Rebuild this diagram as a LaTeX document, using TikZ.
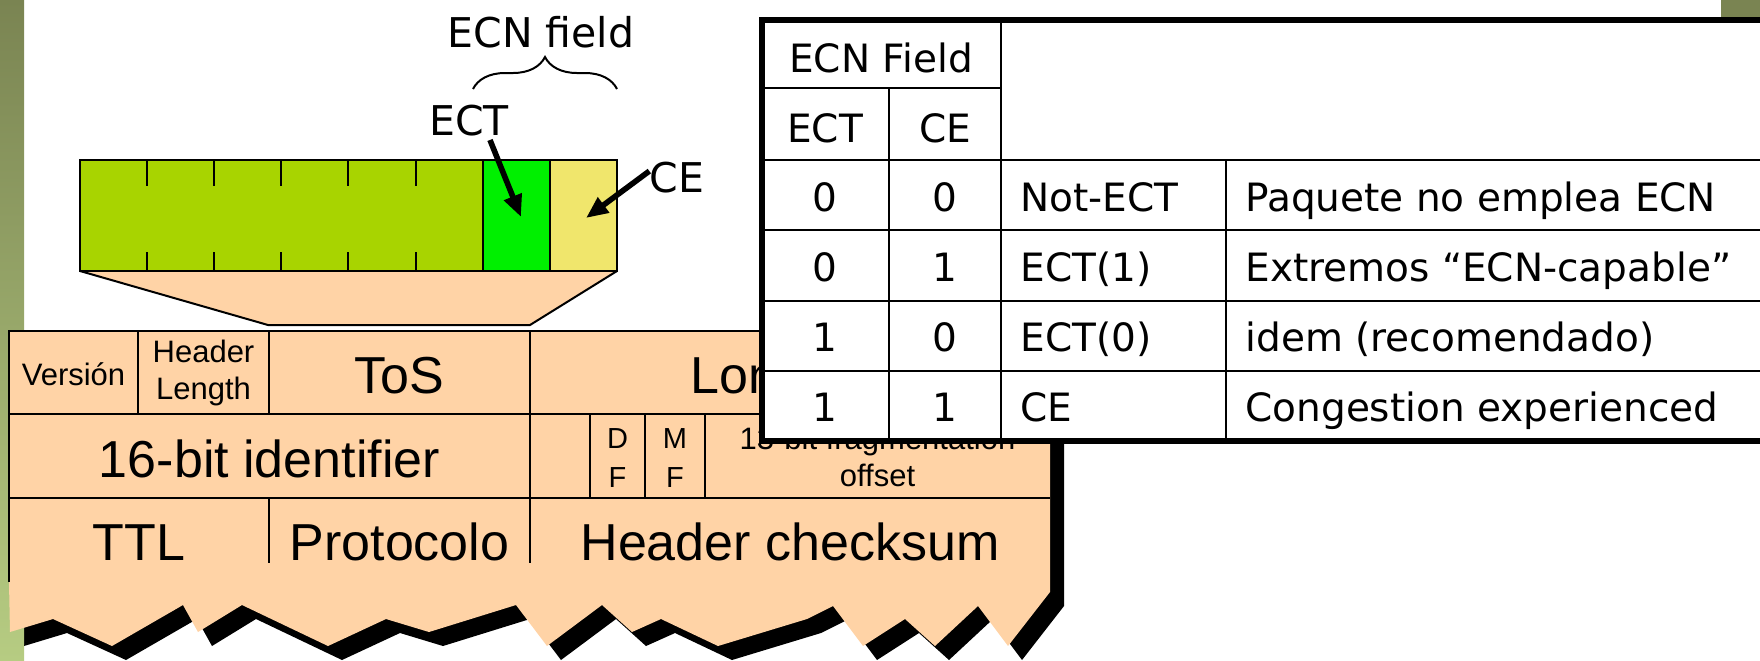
\documentclass[tikz,border=0pt]{standalone}
\usepackage{fontspec}
\setmainfont{Liberation Sans}
\newfontfamily\comicfont{DejaVu Sans}
\usepackage{tikz}
\usetikzlibrary{positioning,arrows.meta,decorations.pathreplacing}
\definecolor{peachc}{HTML}{FFD3A6}
\definecolor{limec}{HTML}{A8D400}
\definecolor{ectc}{HTML}{00F000}
\definecolor{cec}{HTML}{F0E66C}
\definecolor{olivetop}{HTML}{7A8452}
\definecolor{olivebot}{HTML}{B6CC82}
\newcommand{\tornedge}{(9,331) -- (1050,331) -- (1050,592) -- (1008,646) -- (978,606) -- (935,646) -- (905,619) -- (863,646) -- (833,606) -- (807,619) -- (718,646) -- (661,619) -- (632,632) -- (602,605) -- (547,646) -- (516,605) -- (429,632) -- (386,619) -- (328,646) -- (242,605) -- (198,632) -- (183,605) -- (112,646) -- (53,619) -- (10,632) -- (9,582) -- cycle}
\tikzset{
  rule/.style={line width=1pt},
  bigtxt/.style={font=\fontsize{26}{30}\selectfont,anchor=base,inner sep=0pt},
  midtxt/.style={font=\fontsize{15.5}{18.5}\selectfont,align=center,inner sep=0pt},
  tinytxt/.style={font=\fontsize{14.5}{19.5}\selectfont,align=center,inner sep=0pt},
  tbltxt/.style={font=\comicfont\fontsize{19.5}{23}\selectfont,anchor=base,inner sep=0pt},
  lbltxt/.style={font=\comicfont\fontsize{20.5}{24}\selectfont,anchor=base,inner sep=0pt},
  ptr/.style={line width=2.8pt,-{Triangle[length=11pt,width=9pt]}}
}

\begin{document}
\begin{tikzpicture}[x=0.5pt,y=-0.5pt]
  \useasboundingbox (0,0) rectangle (1760,660);
  \clip (0,0) rectangle (1760,660);
  \fill[black,shift={(14,14)}] \tornedge;
  \shade[top color=olivetop,bottom color=olivebot] (0,0) rectangle (24,660);
  \fill[olivetop] (1721,0) rectangle (1760,22);
  % the ToS byte
  \filldraw[rule,fill=peachc] (80,271) -- (268,325) -- (530,325) -- (617,271);
  \fill[limec] (80,160) rectangle (482.7,271);
  \fill[ectc] (482.7,160) rectangle (549.8,271);
  \fill[cec] (549.8,160) rectangle (617,271);
  \draw[rule] (80,160) rectangle (617,271) (482.7,160) -- (482.7,271) (549.8,160) -- (549.8,271);
  \foreach \i in {1,...,5}
     \draw[rule] (80+67.1*\i,160) -- ++(0,26) (80+67.1*\i,271) -- ++(0,-19);
  \draw[decorate,decoration={brace,amplitude=16pt},line width=1pt] (473,89) -- (617,89);
  \node[lbltxt] (ecnlbl) at (541,47) {ECN field};
  \node[lbltxt] (ectlbl) at (469,135) {ECT};
  \node[lbltxt] (celbl) at (677,192) {CE};
  \coordinate (ecthead) at (521,217);
  \coordinate (cehead) at (586,218);
  \draw[ptr] ([xshift=10.5pt,yshift=-2pt]ectlbl.south) -- (ecthead);
  \draw[ptr] ([yshift=3pt]celbl.west) -- (cehead);
  % IP header
  \fill[peachc] \tornedge;
  \draw[rule] (9,582) -- (9,331) -- (1050,331);
  \draw[rule] (9,414) -- (1050,414) (9,498) -- (1050,498);
  \foreach \x in {138,269,530} \draw[rule] (\x,331) -- (\x,414);
  \foreach \x in {530,590,645,705} \draw[rule] (\x,414) -- (\x,498);
  \foreach \x in {269,530} \draw[rule] (\x,498) -- (\x,563);
  \node[midtxt,anchor=base] (ver) at (73.5,385) {Versión};
  \node[midtxt] (hlen) at (203.5,373) {Header\\Length};
  \node[bigtxt] (tos) at (399.5,393) {ToS};
  \node[bigtxt] (lon) at (790,393) {Longitud};
  \node[bigtxt] (ident) at (269.5,477) {16-bit identifier};
  \node[tinytxt] (df) at (617.5,458) {D\\F};
  \node[tinytxt] (mf) at (675,458) {M\\F};
  \node[midtxt] (frag) at (877.5,457) {13-bit fragmentation\\offset};
  \node[bigtxt] (ttl) at (139,560) {TTL};
  \node[bigtxt] (proto) at (399.5,560) {Protocolo};
  \node[bigtxt] (chk) at (790,560) {Header checksum};
  % ECN codepoints
  \filldraw[line width=3pt,fill=white] (762,20) rectangle (1790,441);
  \draw[rule] (762,88) -- (1001,88);
  \foreach \y in {160,230,301,371} \draw[rule] (762,\y) -- (1790,\y);
  \draw[rule] (1001,20) -- (1001,441) (889,88) -- (889,441) (1226,160) -- (1226,441);
  \node[tbltxt] (ecnhd) at (881,72) {ECN Field};
  \node[tbltxt] (ecthd) at (825,142) {ECT};
  \node[tbltxt] (cehd) at (945,142) {CE};
  \foreach \a/\b/\n/\d [count=\i from 0] in {0/0/Not-ECT/Paquete no emplea ECN,0/1/ECT(1)/Extremos “ECN-capable”,1/0/ECT(0)/idem (recomendado),1/1/CE/Congestion experienced}{
     \node[tbltxt] (ectbit\i) at (825,211+70.3*\i) {\a};
     \node[tbltxt] (cebit\i) at (945,211+70.3*\i) {\b};
     \node[tbltxt,anchor=base west] (cpname\i) at (1020,211+70.3*\i) {\n};
     \node[tbltxt,anchor=base west] (cpdesc\i) at (1245,211+70.3*\i) {\d};}
\end{tikzpicture}
\end{document}
